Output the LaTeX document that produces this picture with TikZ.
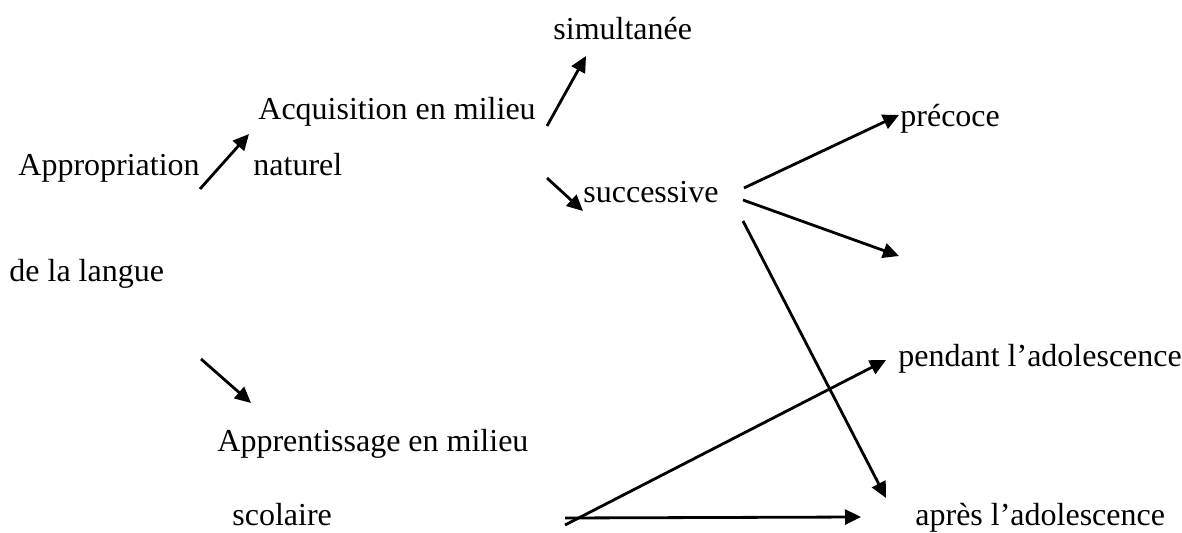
\documentclass[tikz,border=0pt]{standalone}
\usepackage{fontspec}
\setmainfont{Liberation Serif}
\usetikzlibrary{arrows.meta}
\begin{document}
\begin{tikzpicture}[x=0.5pt,y=-0.5pt,
  lbl/.style={anchor=mid west,inner sep=0pt,font=\fontsize{16}{19}\selectfont},
  arr/.style={line width=1.4pt,-{Triangle[length=8pt,width=7.5pt]}}]
\useasboundingbox (0,0) rectangle (1182,533);
\node[lbl] (simul) at (553,35) {simultanée};
\node[lbl] (acq) at (258,115) {Acquisition en milieu};
\node[lbl] (appr) at (18,171) {Appropriation};
\node[lbl] (nat) at (253,171) {naturel};
\node[lbl] (succ) at (583,198) {successive};
\node[lbl] (prec) at (900,122) {précoce};
\node[lbl] (lang) at (9,277) {de la langue};
\node[lbl] (pend) at (898,362) {pendant l’adolescence};
\node[lbl] (apprent) at (217,447) {Apprentissage en milieu};
\node[lbl] (scol) at (232,521) {scolaire};
\node[lbl] (apres) at (915,521) {après l’adolescence};
\coordinate (a1s) at (200,189); \coordinate (a1e) at (249,134);
\coordinate (a2s) at (547,126); \coordinate (a2e) at (586,56);
\coordinate (a3s) at (547,178); \coordinate (a3e) at (583,211);
\coordinate (a4s) at (744,188); \coordinate (a4e) at (899,115);
\coordinate (a5s) at (743,200); \coordinate (a5e) at (899,256);
\coordinate (a6s) at (743,221); \coordinate (a6e) at (886,498);
\coordinate (a7s) at (201,359); \coordinate (a7e) at (251,403);
\coordinate (a8s) at (565,525); \coordinate (a8e) at (886,360);
\coordinate (a9s) at (565,518); \coordinate (a9e) at (861,517);
\draw[arr] (a1s) -- (a1e);
\draw[arr] (a2s) -- (a2e);
\draw[arr] (a3s) -- (a3e);
\draw[arr] (a4s) -- (a4e);
\draw[arr] (a5s) -- (a5e);
\draw[arr] (a6s) -- (a6e);
\draw[arr] (a7s) -- (a7e);
\draw[arr] (a8s) -- (a8e);
\draw[arr] (a9s) -- (a9e);
\end{tikzpicture}
\end{document}
